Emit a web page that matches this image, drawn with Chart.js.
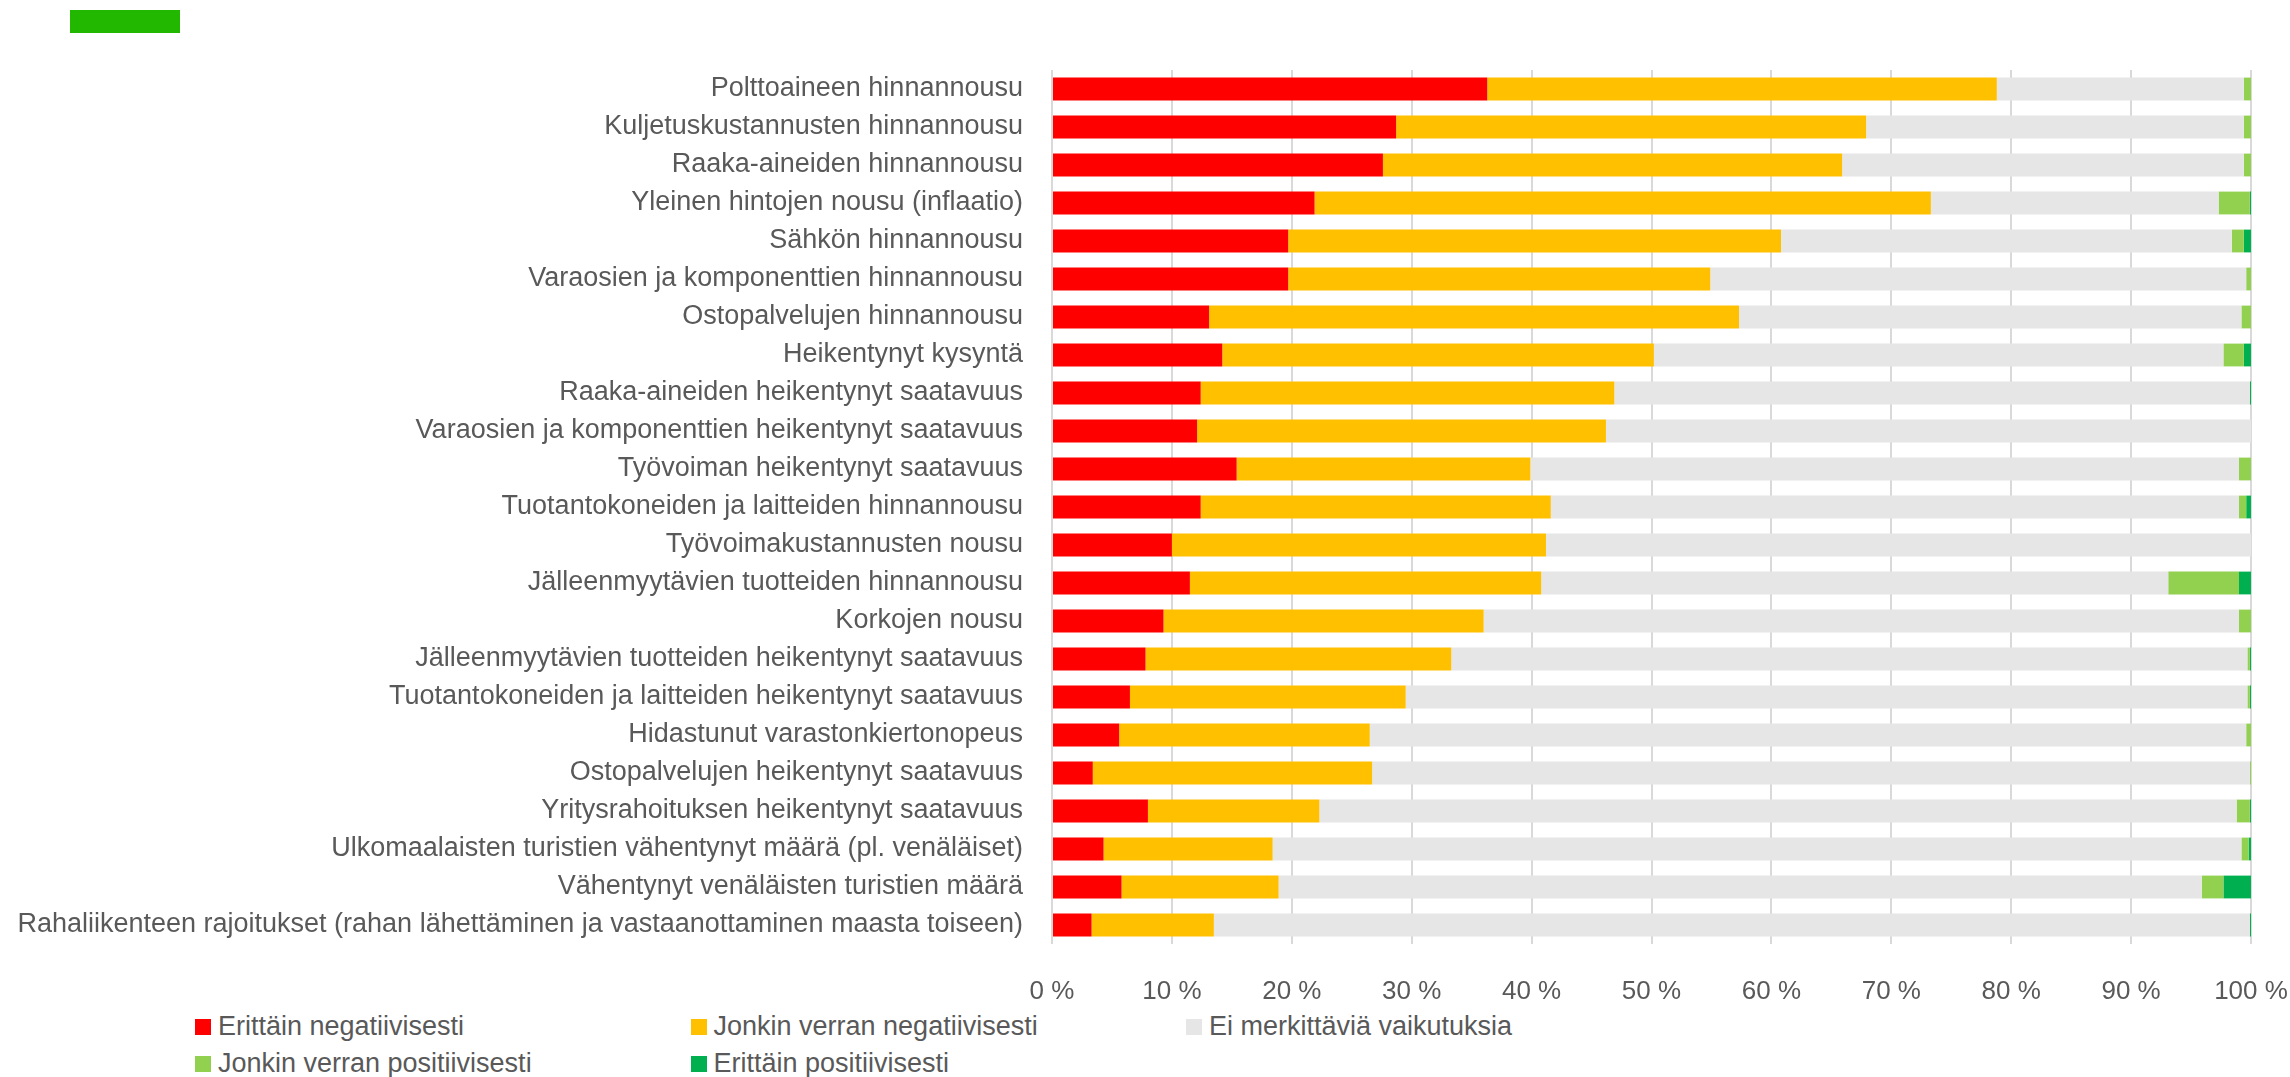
<!DOCTYPE html>
<html lang="fi">
<head>
    <meta charset="UTF-8">
    <title>Vaikutukset yritysten toimintaan</title>
    <script src="https://cdn.jsdelivr.net/npm/chart.js"></script>
    <style>
        body, html {
            margin: 0;
            padding: 0;
            background-color: #ffffff;
            font-family: "Liberation Sans", Arial, sans-serif;
            overflow: hidden;
        }
        .page {
            position: relative;
            width: 2290px;
            height: 1077px;
        }
        .marker {
            position: absolute;
            left: 70px;
            top: 10px;
            width: 110px;
            height: 23px;
            background-color: #22b800;
        }
        .chart-box {
            position: absolute;
            left: 0;
            top: 0;
            width: 2290px;
            height: 1000px;
        }
        .legend {
            position: absolute;
            left: 195px;
            top: 1008px;
            display: grid;
            grid-template-columns: 495.5px 495.5px 495.5px;
            grid-auto-rows: 37px;
            color: #595959;
            font-size: 27px;
        }
        .legend-item {
            display: flex;
            align-items: center;
            white-space: nowrap;
        }
        .legend-box {
            width: 16px;
            height: 16px;
            margin-right: 7px;
            flex: none;
        }
    </style>
</head>
<body>
<div class="page">
    <div class="marker"></div>
    <div class="chart-box">
        <canvas id="impactChart" width="2290" height="1000"></canvas>
    </div>
    <div class="legend" id="legend"></div>
</div>

<script>
    const categories = [
        'Polttoaineen hinnannousu',
        'Kuljetuskustannusten hinnannousu',
        'Raaka-aineiden hinnannousu',
        'Yleinen hintojen nousu (inflaatio)',
        'Sähkön hinnannousu',
        'Varaosien ja komponenttien hinnannousu',
        'Ostopalvelujen hinnannousu',
        'Heikentynyt kysyntä',
        'Raaka-aineiden heikentynyt saatavuus',
        'Varaosien ja komponenttien heikentynyt saatavuus',
        'Työvoiman heikentynyt saatavuus',
        'Tuotantokoneiden ja laitteiden hinnannousu',
        'Työvoimakustannusten nousu',
        'Jälleenmyytävien tuotteiden hinnannousu',
        'Korkojen nousu',
        'Jälleenmyytävien tuotteiden heikentynyt saatavuus',
        'Tuotantokoneiden ja laitteiden heikentynyt saatavuus',
        'Hidastunut varastonkiertonopeus',
        'Ostopalvelujen heikentynyt saatavuus',
        'Yritysrahoituksen heikentynyt saatavuus',
        'Ulkomaalaisten turistien vähentynyt määrä (pl. venäläiset)',
        'Vähentynyt venäläisten turistien määrä',
        'Rahaliikenteen rajoitukset (rahan lähettäminen ja vastaanottaminen maasta toiseen)'
    ];

    // shares in percent
    const veryNegative = [36.3, 28.7, 27.6, 21.9, 19.7, 19.7, 13.1, 14.2, 12.4, 12.1, 15.4, 12.4, 10.0, 11.5, 9.3, 7.8, 6.5, 5.6, 3.4, 8.0, 4.3, 5.8, 3.3];
    const someNegative = [42.5, 39.2, 38.3, 51.4, 41.1, 35.2, 44.2, 36.0, 34.5, 34.1, 24.5, 29.2, 31.2, 29.3, 26.7, 25.5, 23.0, 20.9, 23.3, 14.3, 14.1, 13.1, 10.2];
    const noEffect     = [20.6, 31.5, 33.5, 24.0, 37.6, 44.7, 41.9, 47.5, 53.0, 53.8, 59.1, 57.4, 58.8, 52.3, 63.0, 66.4, 70.2, 73.1, 73.2, 76.5, 80.8, 77.0, 86.4];
    const somePositive = [0.6, 0.6, 0.6, 2.6, 1.0, 0.4, 0.8, 1.7, 0, 0, 1.0, 0.6, 0, 5.9, 1.0, 0.2, 0.2, 0.4, 0.1, 1.1, 0.6, 1.8, 0];
    const veryPositive = [0, 0, 0, 0.1, 0.6, 0, 0, 0.6, 0.1, 0, 0, 0.4, 0, 1.0, 0, 0.1, 0.1, 0, 0, 0.1, 0.2, 2.3, 0.1];

    const seriesNames = ['Erittäin negatiivisesti', 'Jonkin verran negatiivisesti', 'Ei merkittäviä vaikutuksia', 'Jonkin verran positiivisesti', 'Erittäin positiivisesti'];
    const seriesColors = ['#ff0000', '#ffc000', '#e6e6e6', '#92d050', '#00b050'];
    const seriesData = [veryNegative, someNegative, noEffect, somePositive, veryPositive];

    const xTicks = [0, 10, 20, 30, 40, 50, 60, 70, 80, 90, 100];

    const textColor = '#595959';
    const fontFamily = '"Liberation Sans", Arial, sans-serif';

    const ctx = document.getElementById('impactChart').getContext('2d');
    const impactChart = new Chart(ctx, {
        type: 'bar',
        data: {
            labels: categories,
            datasets: seriesNames.map((name, i) => ({
                label: name,
                data: seriesData[i],
                backgroundColor: seriesColors[i],
                borderWidth: 0,
                barPercentage: 0.6,
                categoryPercentage: 1.0
            }))
        },
        options: {
            indexAxis: 'y',
            responsive: false,
            maintainAspectRatio: false,
            animation: false,
            layout: {
                padding: { left: 0, right: 39, top: 70, bottom: 0 }
            },
            scales: {
                x: {
                    stacked: true,
                    min: 0,
                    max: 100,
                    afterBuildTicks: scale => {
                        scale.ticks = xTicks.map(v => ({ value: v }));
                    },
                    afterFit: scale => {
                        scale.height = 56;
                        // keep the plot edges fixed, labels may overhang
                        scale.paddingLeft = 0;
                        scale.paddingRight = 0;
                    },
                    ticks: {
                        color: textColor,
                        padding: 32,
                        font: { family: fontFamily, size: 26 },
                        callback: value => value + ' %'
                    },
                    grid: {
                        color: '#d9d9d9',
                        lineWidth: 2,
                        drawTicks: false
                    },
                    border: { display: false }
                },
                y: {
                    stacked: true,
                    afterFit: scale => {
                        scale.width = 1052;
                    },
                    ticks: {
                        color: textColor,
                        padding: 29,
                        autoSkip: false,
                        font: { family: fontFamily, size: 27 }
                    },
                    grid: { display: false, drawTicks: false },
                    border: { display: false }
                }
            },
            plugins: {
                legend: { display: false },
                tooltip: { enabled: false }
            }
        }
    });

    // legend drawn as html so that the columns line up like in the original
    const legend = document.getElementById('legend');
    seriesNames.forEach((name, i) => {
        const item = document.createElement('div');
        item.className = 'legend-item';
        const box = document.createElement('span');
        box.className = 'legend-box';
        box.style.backgroundColor = seriesColors[i];
        const text = document.createElement('span');
        text.textContent = name;
        item.appendChild(box);
        item.appendChild(text);
        legend.appendChild(item);
    });
</script>
</body>
</html>
